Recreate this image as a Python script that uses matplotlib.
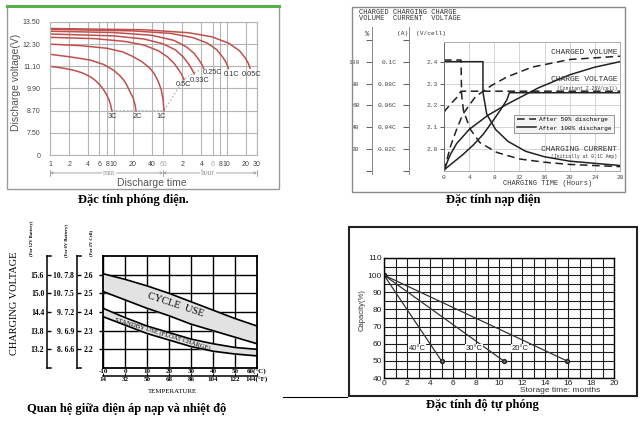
import numpy as np
import matplotlib
matplotlib.use("Agg")
import matplotlib.pyplot as plt
from matplotlib.lines import Line2D
from matplotlib.patches import Rectangle
from matplotlib import font_manager

W, H = 643, 423

# ---- discharge characteristic (minutes, volts) ----
rate_names = ["3C", "2C", "1C", "0.5C", "0.33C", "0.25C", "0.1C", "0.05C"]
rate_minutes = [
    [1, 1.5, 2.3, 3.2, 4.3, 5.2, 6.1, 7.0, 7.8, 8.5, 9.0, 9.4],
    [1, 2, 4.3, 7, 9.9, 12.5, 14.5, 16.1, 18, 20.4, 21.8, 22.5],
    [1, 3, 7.8, 14, 20.4, 28, 37.4, 44, 50.5, 56, 60, 62],
    [1, 5, 15, 30, 50, 70, 90, 105, 118, 128],
    [1, 10, 30, 60, 95, 125, 150, 168, 185],
    [1, 10, 40, 90, 140, 185, 220, 245, 260],
    [1, 20, 80, 180, 300, 420, 520, 590, 640],
    [1, 30, 150, 350, 650, 950, 1180, 1320, 1400],
]
rate_volts = [
    [11.1, 11.02, 10.9, 10.75, 10.54, 10.33, 10.09, 9.82, 9.55, 9.27, 9.0, 8.7],
    [11.75, 11.62, 11.44, 11.2, 10.9, 10.6, 10.35, 10.09, 9.75, 9.37, 9.0, 8.7],
    [12.3, 12.22, 12.08, 11.88, 11.62, 11.35, 10.99, 10.68, 10.27, 9.85, 9.3, 8.7],
    [12.67, 12.6, 12.45, 12.25, 11.95, 11.62, 11.25, 10.93, 10.65, 10.38],
    [12.85, 12.75, 12.58, 12.32, 11.98, 11.6, 11.25, 10.98, 10.7],
    [13.0, 12.93, 12.78, 12.5, 12.15, 11.8, 11.45, 11.2, 11.0],
    [13.1, 13.02, 12.88, 12.65, 12.35, 12.0, 11.6, 11.3, 11.0],
    [13.15, 13.08, 12.92, 12.7, 12.35, 11.95, 11.55, 11.25, 11.0],
]
end_minutes = [9.4, 62, 75, 90, 108, 128, 155, 185, 260]
end_volts = [8.7, 8.7, 9.15, 9.6, 10.0, 10.38, 10.6, 10.75, 11.0]
volt_ticks = [7.5, 8.7, 9.9, 11.1, 12.3, 13.5]
volt_labels = ["7.50", "8.70", "9.90", "11.10", "12.30", "13.50"]
time_ticks = [1, 2, 4, 6, 8, 10, 20, 40, 60, 120, 240, 360, 480, 600, 1200, 1800]
time_labels = ["1", "2", "4", "6", "8", "10", "20", "40", "60",
               "2", "4", "6", "8", "10", "20", "30"]

# ---- charge characteristic (hours) ----
cur100_h = [0, 6.2, 6.2, 6.8, 8.2, 10.2, 13, 16, 20, 24, 28]
cur100_a = [0.1, 0.1, 0.072, 0.052, 0.038, 0.027, 0.018, 0.013, 0.009, 0.007, 0.005]
cur50_h = [0, 2.7, 2.8, 3.1, 4.2, 5.7, 8.4, 12, 16, 20, 24, 28]
cur50_a = [0.1015, 0.1015, 0.07, 0.055, 0.038, 0.026, 0.017, 0.011, 0.008, 0.006, 0.005, 0.004]
volt100_h = [0, 1.5, 3, 4.7, 6.3, 7.8, 9, 10, 10.4, 28]
volt100_v = [1.905, 1.94, 1.975, 2.02, 2.07, 2.13, 2.18, 2.225, 2.258, 2.258]
volt50_h = [0, 1, 2, 2.7, 28]
volt50_v = [2.17, 2.205, 2.235, 2.265, 2.265]
vol100_h = [0, 0.5, 1, 2, 4, 7, 10, 15, 20, 24, 28]
vol100_p = [0, 8, 15, 25, 38, 51, 61, 76, 88, 95, 100]
vol50_h = [0, 1, 2, 3, 5, 7.5, 10, 14, 20, 28]
vol50_p = [0, 22, 38, 52, 68, 78, 86, 95, 102, 105]

# ---- charge voltage vs temperature ----
temps_c = [-10, 0, 10, 20, 30, 40, 50, 60]
cycle_hi = [2.605, 2.575, 2.54, 2.50, 2.455, 2.41, 2.365, 2.325]
cycle_lo = [2.51, 2.465, 2.42, 2.38, 2.335, 2.30, 2.265, 2.23]
standby_hi = [2.42, 2.37, 2.325, 2.29, 2.255, 2.23, 2.21, 2.20]
standby_lo = [2.375, 2.33, 2.285, 2.25, 2.215, 2.19, 2.175, 2.165]
cell_ticks = [2.2, 2.3, 2.4, 2.5, 2.6]
lab_12v = ["13.2", "13.8", "14.4", "15.0", "15.6"]
lab_6v = ["8. 6.6", "9. 6.9", "9. 7.2", "10. 7.5", "10. 7.8"]
temps_f = [14, 32, 50, 68, 86, 104, 122, 140]
lab_f = ["14", "32", "50", "68", "86", "104", "122", "144(°F)"]
lab_c = ["-10", "0", "10", "20", "30", "40", "50", "60(°C)"]

# ---- self discharge ----
storage_temps = ["40°C", "30°C", "20°C"]
storage_months = [[0, 5.0], [0, 10.4], [0, 15.9]]
storage_capacity = [[100, 50], [100, 50], [100, 50]]

names = {f.name for f in font_manager.fontManager.ttflist}
narrow = "Liberation Sans Narrow" if "Liberation Sans Narrow" in names else "Liberation Sans"
sans = "Liberation Sans"
serif = "Liberation Serif"
mono = "Liberation Mono"

fig = plt.figure(figsize=(W / 100, H / 100), dpi=100)


def px_box(l, t, r, b):
    return [l / W, 1 - b / H, (r - l) / W, (b - t) / H]


def ftext(x, y, s, **kw):
    return fig.text(x / W, 1 - y / H, s, **kw)


def fline(xs, ys, **kw):
    fig.add_artist(Line2D([x / W for x in xs], [1 - y / H for y in ys],
                          transform=fig.transFigure, **kw))


def frame(l, t, r, b, **kw):
    fig.add_artist(Rectangle((l / W, 1 - b / H), (r - l) / W, (b - t) / H,
                             transform=fig.transFigure, fill=False, **kw))


# ================= panel 1: discharge =================
frame(7, 6, 279, 189, edgecolor="#9a9a9a", lw=1)
fline([7, 279], [6, 6], color="#58b04a", lw=2.2)

ax1 = fig.add_axes(px_box(50, 22, 257, 155))
ax1.set_xscale("log")
ax1.set_xlim(1, 1800)
ax1.set_ylim(6.3, 13.5)
ax1.set_yticks([6.3] + volt_ticks)
ax1.set_yticklabels(["0"] + volt_labels)
ax1.set_xticks(time_ticks)
ax1.set_xticklabels(time_labels)
ax1.minorticks_off()
ax1.grid(True, color="#b4b4b4", lw=0.8)
ax1.tick_params(length=0, labelsize=5, colors="#444")
ax1.tick_params(axis="y", pad=7)
ax1.tick_params(axis="x", pad=4)
for lab in ax1.get_xticklabels() + ax1.get_yticklabels():
    lab.set_fontfamily(narrow)
ax1.get_xticklabels()[8].set_color("#aaa")
ax1.get_xticklabels()[11].set_color("#aaa")
for s in ax1.spines.values():
    s.set_color("#b4b4b4")
    s.set_linewidth(0.8)

ax1.plot(end_minutes, end_volts, color="#bbbbbb", lw=0.9, ls=(0, (1.5, 1.5)))
label_offsets = [(0, -6), (1, -6), (-3, -6), (-1, -5), (5, -7), (9, -4), (3, -6), (1, -6)]
for name, t, v, off in zip(rate_names, rate_minutes, rate_volts, label_offsets):
    ax1.plot(t, v, color="#c0504d", lw=1.1)
    ax1.annotate(name, (t[-1], v[-1]), xytext=off, textcoords="offset pixels",
                 ha="center", va="center", fontsize=5.3, color="#333", family=narrow)

tr = ax1.get_xaxis_transform()
for a, b in [(1, 60), (60, 1800)]:
    ax1.annotate("", xy=(a, -0.135), xytext=(b, -0.135), xycoords=tr, textcoords=tr,
                 arrowprops=dict(arrowstyle="<->", color="#999", lw=0.6,
                                 shrinkA=0, shrinkB=0, mutation_scale=4),
                 annotation_clip=False)
for a in [1, 60, 1800]:
    ax1.plot([a, a], [-0.16, -0.11], transform=tr, color="#999", lw=0.6, clip_on=False)
for x, s in [(8.5, "min"), (305, "hour")]:
    ax1.text(x, -0.135, s, transform=tr, ha="center", va="center", fontsize=5.5,
             color="#999", family=serif,
             bbox=dict(facecolor="white", edgecolor="none", pad=0.6))
ftext(152, 183, "Discharge time", ha="center", va="center", fontsize=7.5,
      color="#555", family=sans)
ftext(16, 82, "Discharge voltage(V)", rotation=90, ha="center", va="center",
      fontsize=7.5, color="#555", family=sans)
ftext(133, 200, "Đặc tính phóng điện.", ha="center", va="center", fontsize=9,
      family=serif, weight="bold")

# ================= panel 2: charge =================
frame(352, 7, 625, 192, edgecolor="#8a8a8a", lw=1)


def vol_y(p):
    return 1.9 + np.asarray(p) / 200


def cur_y(c):
    return 1.9 + np.asarray(c) * 5


ax2 = fig.add_axes(px_box(444, 42, 620, 171))
ax2.set_xlim(0, 28)
ax2.set_ylim(1.9, 2.49)
ax2.set_xticks(range(0, 29, 4))
ax2.set_yticks([2.0, 2.1, 2.2, 2.3, 2.4])
ax2.set_yticklabels(["2.0", "2.1", "2.2", "2.3", "2.4"])
ax2.grid(True, color="#cfcfcf", lw=0.6)
ax2.tick_params(labelsize=4.5, colors="#444", length=3, width=0.6, pad=1.5)
ax2.tick_params(axis="x", length=0, pad=3)
for lab in ax2.get_xticklabels() + ax2.get_yticklabels():
    lab.set_fontfamily(mono)
for s in ax2.spines.values():
    s.set_color("#aaa")
    s.set_linewidth(0.7)
ax2.spines["left"].set_color("#666")

solid = dict(color="#222", lw=1.1)
dashed = dict(color="#222", lw=1.1, ls=(0, (5, 3)))
ax2.plot(cur100_h, cur_y(cur100_a), **solid)
ax2.plot(cur50_h, cur_y(cur50_a), **dashed)
ax2.plot(volt100_h, volt100_v, **solid)
ax2.plot(volt50_h, volt50_v, **dashed)
ax2.plot(vol100_h, vol_y(vol100_p), **solid)
ax2.plot(vol50_h, vol_y(vol50_p), **dashed)

for y, s, fs in [(0.922, "CHARGED VOLUME", 5.8), (0.712, "CHARGE VOLTAGE", 5.8),
                 (0.643, "(Constant 2.26V/cell)", 3.4), (0.17, "CHARGING CURRENT", 5.8),
                 (0.11, "(Initially at 0.1C Amp)", 3.4)]:
    ax2.text(0.985, y, s, transform=ax2.transAxes, ha="right", va="center",
             fontsize=fs, family=mono, color="#333")
leg = ax2.legend([Line2D([], [], **dashed), Line2D([], [], **solid)],
                 ["After 50% discharge", "After 100% discharge"],
                 loc="center right", bbox_to_anchor=(0.985, 0.365),
                 prop=dict(family=mono, size=4.3), frameon=True, fancybox=False,
                 edgecolor="#888", facecolor="#f3f3f3", framealpha=1,
                 handlelength=3.2, borderpad=0.4, labelspacing=0.5, handletextpad=0.6)
leg.get_frame().set_linewidth(0.6)


def col_axis(x, top, bottom, ticks, labels):
    k = (2.49 - 1.9) / (171 - 42)
    ax = fig.add_axes(px_box(x, top, x + 1, bottom))
    ax.set_ylim(1.9 - (bottom - 171) * k, 2.49 + (42 - top) * k)
    ax.set_xticks([])
    ax.set_yticks(ticks)
    ax.set_yticklabels(labels)
    for side in ["right", "top", "bottom"]:
        ax.spines[side].set_visible(False)
    ax.spines["left"].set_color("#888")
    ax.spines["left"].set_linewidth(0.7)
    ax.tick_params(labelsize=4.5, colors="#444", length=4, width=0.6, pad=5)
    for lab in ax.get_yticklabels():
        lab.set_fontfamily(mono)
    ax.patch.set_visible(False)
    return ax


pct_ticks = [0, 20, 40, 60, 80, 100, 120]
col_axis(372, 27, 174, vol_y(pct_ticks), ["", "20", "40", "60", "80", "100", ""])
amp_ticks = [0, 0.02, 0.04, 0.06, 0.08, 0.1, 0.12]
col_axis(409, 27, 174, cur_y(amp_ticks), ["", "0.02C", "0.04C", "0.06C", "0.08C", "0.1C", ""])

ftext(359, 12, "CHARGED CHARGING CHARGE", ha="left", va="center", fontsize=5,
      family=mono, color="#333")
ftext(359, 19, "VOLUME  CURRENT  VOLTAGE", ha="left", va="center", fontsize=5,
      family=mono, color="#333")
ftext(367, 34, "%", ha="center", va="center", fontsize=5, family=mono, color="#333")
ftext(403, 34, "(A)", ha="center", va="center", fontsize=4.5, family=mono, color="#333")
ftext(431, 34, "(V/cell)", ha="center", va="center", fontsize=4.5, family=mono, color="#333")
ftext(548, 183, "CHARGING TIME (Hours)", ha="center", va="center", fontsize=5,
      family=mono, color="#333")
ftext(493, 200, "Đặc tính nạp điện", ha="center", va="center", fontsize=9,
      family=serif, weight="bold")

# ================= panel 3: voltage vs temperature =================
ax3 = fig.add_axes(px_box(103, 256, 257, 368))
ax3.set_xlim(-10, 60)
ax3.set_ylim(2.1, 2.7)
ax3.set_xticks(temps_c)
ax3.set_xticklabels(lab_c)
ax3.set_yticks(cell_ticks)
ax3.set_yticklabels(["2.2", "2.3", "2.4", "2.5", "2.6"])
ax3.grid(True, color="black", lw=1.0)
ax3.tick_params(axis="y", length=3, width=1, pad=4, labelsize=5.5)
ax3.tick_params(axis="x", length=0, pad=0.5, labelsize=5)
for lab in ax3.get_xticklabels() + ax3.get_yticklabels():
    lab.set_fontfamily(serif)
    lab.set_fontweight("bold")
for s in ax3.spines.values():
    s.set_linewidth(1.3)
ax3.fill_between(temps_c, cycle_lo, cycle_hi, color="#e2e2e2", zorder=2)
ax3.fill_between(temps_c, standby_lo, standby_hi, color="#e2e2e2", zorder=2)
for ys in [cycle_hi, cycle_lo, standby_hi, standby_lo]:
    ax3.plot(temps_c, ys, color="black", lw=1.2, zorder=3)
ax3.text(23, 2.437, "CYCLE  USE", rotation=-18.5, rotation_mode="anchor",
         ha="center", va="center", fontsize=7.5, family=serif, zorder=4)
ax3.text(17, 2.285, "STANDBY USE (FLOAT CHARGE)", rotation=-17, rotation_mode="anchor",
         ha="center", va="center", fontsize=4.8, family=serif, zorder=4)

sec = ax3.secondary_xaxis(-0.075, functions=(lambda c: c * 1.8 + 32, lambda f: (f - 32) / 1.8))
sec.set_xticks(temps_f)
sec.set_xticklabels(lab_f)
sec.spines["bottom"].set_linewidth(1.1)
sec.tick_params(direction="in", length=2, width=0.8, pad=0.3, labelsize=5)
for lab in sec.get_xticklabels():
    lab.set_fontfamily(serif)
    lab.set_fontweight("bold")
ftext(173, 391, "TEMPERATURE", ha="center", va="center", fontsize=5, family=serif)

for x, labels in [(47, lab_12v), (77, lab_6v)]:
    axb = fig.add_axes(px_box(x, 256, x + 4, 368))
    axb.set_ylim(2.1, 2.7)
    axb.set_xticks([])
    axb.set_yticks(cell_ticks)
    axb.set_yticklabels(labels)
    axb.spines["right"].set_visible(False)
    for s in axb.spines.values():
        s.set_linewidth(1.1)
    axb.tick_params(direction="in", length=3, width=1, pad=2, labelsize=5.5)
    for lab in axb.get_yticklabels():
        lab.set_fontfamily(serif)
        lab.set_fontweight("bold")
    axb.patch.set_visible(False)

for x, y, s in [(32, 238, "(For 12V Battery)"), (67, 240, "(For 6V Battery)"),
                (91, 243, "(For 2V Cell)")]:
    ftext(x, y, s, rotation=90, ha="center", va="center", fontsize=3.3,
          family=serif, weight="bold")
ftext(15, 303, "CHARGING VOLTAGE", rotation=90, ha="center", va="center",
      fontsize=7.5, family=serif)
ftext(127, 409, "Quan hệ giữa điện áp nạp và nhiệt độ", ha="center", va="center",
      fontsize=9, family=serif, weight="bold")
fline([283, 347], [397, 397], color="black", lw=0.8)

# ================= panel 4: self discharge =================
frame(349, 227, 637, 396, edgecolor="#222", lw=1.5)
ax4 = fig.add_axes(px_box(384, 258, 614, 378))
ax4.set_xlim(0, 20)
ax4.set_ylim(40, 110)
ax4.set_xticks(range(0, 21, 2))
ax4.set_xticks(range(0, 21), minor=True)
ax4.set_yticks(range(40, 111, 10))
ax4.set_yticks(range(40, 111, 5), minor=True)
ax4.grid(True, which="both", color="#1e1e1e", lw=0.8)
ax4.tick_params(which="both", direction="in", length=0, labelsize=6, pad=1.5, colors="#222")
for lab in ax4.get_xticklabels() + ax4.get_yticklabels():
    lab.set_fontfamily(sans)
for s in ax4.spines.values():
    s.set_linewidth(1.0)
for name, m, c in zip(storage_temps, storage_months, storage_capacity):
    ax4.plot(m, c, color="#333", lw=0.9, marker="o", markersize=2.8,
             markerfacecolor="#666", markeredgecolor="#222")
for name, x in zip(storage_temps, [2.9, 7.8, 11.8]):
    ax4.text(x, 57.3, name, ha="center", va="center", fontsize=5.5, family=sans,
             color="#222", bbox=dict(facecolor="white", edgecolor="none", pad=0.3))
ftext(362, 310, "Capacity(%)", rotation=90, ha="center", va="center", fontsize=5.5,
      family=sans, color="#333")
ftext(600, 390, "Storage time: months", ha="right", va="center", fontsize=6,
      family=sans, color="#333")
ftext(482, 405, "Đặc tính độ tự phóng", ha="center", va="center", fontsize=9,
      family=serif, weight="bold")

fig.savefig("out.png", dpi=100)
plt.close(fig)
